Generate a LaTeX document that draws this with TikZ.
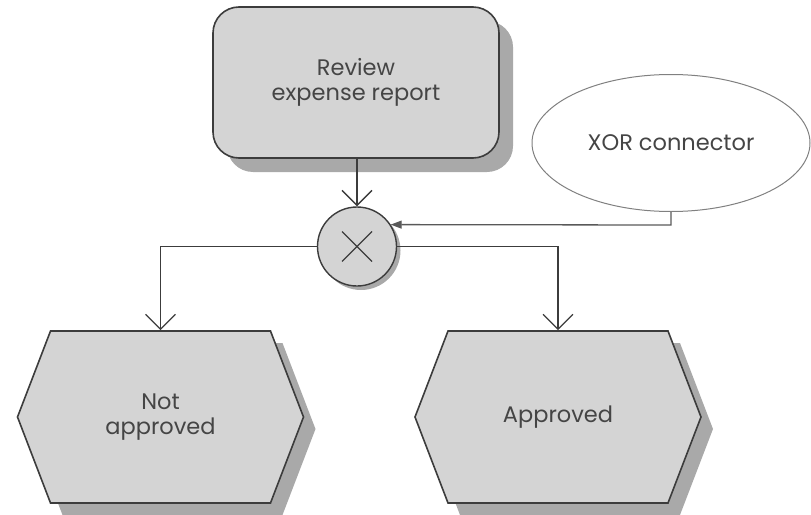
\documentclass[tikz,border=0pt]{standalone}
\usepackage{fontspec}
\setmainfont{Poppins}
\usetikzlibrary{shapes.geometric,shapes.symbols,arrows.meta,shadows}
\definecolor{boxgray}{HTML}{D4D4D4}
\definecolor{shadegray}{HTML}{A9A9A9}
\definecolor{edgegray}{HTML}{3C3C3C}
\definecolor{textgray}{HTML}{454545}
\tikzset{
  every node/.style={font=\fontsize{22.5}{25}\selectfont, text=textgray, align=center},
  funcbox/.style={draw=edgegray, line width=1.6pt, fill=boxgray, rounded corners=26pt,
     minimum width=286pt, minimum height=151pt,
     general shadow={fill=shadegray, shadow xshift=14pt, shadow yshift=-14pt}},
  eventbox/.style={signal, signal to=west and east, signal pointer angle=138,
     draw=edgegray, line width=1.6pt, fill=boxgray, minimum width=286pt, minimum height=172pt,
     inner sep=0pt,
     general shadow={fill=shadegray, shadow xshift=12pt, shadow yshift=-12pt}},
  xorconn/.style={circle, draw=edgegray, line width=1.4pt, fill=boxgray, minimum size=79pt,
     inner sep=0pt,
     general shadow={fill=shadegray, shadow xshift=4pt, shadow yshift=-4pt},
     path picture={\draw[edgegray, line width=1.3pt]
        ([shift={(-15pt,-15pt)}]path picture bounding box.center) -- ++(30pt,30pt)
        ([shift={(-15pt,15pt)}]path picture bounding box.center) -- ++(30pt,-30pt);}},
  callout/.style={ellipse, draw=gray, line width=1pt, fill=white,
     minimum width=278pt, minimum height=137pt},
  flow/.style={draw=edgegray, line width=1.3pt, -{Straight Barb[length=15pt,width=30pt,line width=1.3pt]}},
  pointer/.style={draw=edgegray!85, line width=1.3pt, -{Triangle[length=11pt,width=8pt]}},
}
\begin{document}
\begin{tikzpicture}[x=1pt,y=-1pt]
\useasboundingbox (0,0) rectangle (811,514);
\node[funcbox] (review) at (356,82.5) {Review\\expense report};
\node[callout] (note) at (671,143) {XOR connector};
\node[xorconn] (xor) at (357,246.5) {};
\node[eventbox] (nap) at (160.5,417) {Not\\approved};
\node[eventbox] (ap) at (558,417) {Approved};
\coordinate (bend) at (note.south |- 0,225);
\draw[flow] (review.south -| xor.north) -- (xor.north);
\draw[flow] (xor.west) -| (nap.north);
\draw[flow] (xor.east) -| (ap.north);
\draw[pointer] (note.south) -- (bend) -- (xor.33);
\end{tikzpicture}
\end{document}
